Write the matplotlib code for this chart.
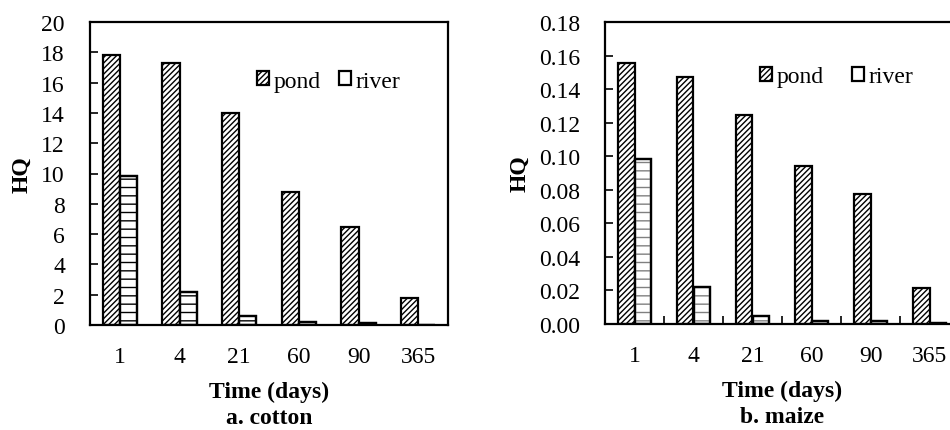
import matplotlib.pyplot as plt
import numpy as np

plt.rcParams['font.family'] = ['Liberation Serif', 'DejaVu Serif']
plt.rcParams['hatch.linewidth'] = 1.0

days = ['1', '4', '21', '60', '90', '365']
cotton_pond = [17.8, 17.3, 14.0, 8.8, 6.5, 1.8]
cotton_river = [9.85, 2.15, 0.58, 0.2, 0.1, 0.02]
maize_pond = [0.1555, 0.147, 0.1245, 0.094, 0.0775, 0.0215]
maize_river = [0.0983, 0.022, 0.0045, 0.002, 0.0015, 0.0005]

W, H = 950, 431
fig = plt.figure(figsize=(W / 100, H / 100), dpi=100)
# axes rectangles in pixels: left, top, right, bottom
ax_a = fig.add_axes([90 / W, 1 - 326 / H, (448 - 90) / W, (326 - 23) / H])
ax_b = fig.add_axes([605 / W, 1 - 325 / H, (959 - 605) / W, (325 - 23) / H])

x = np.arange(len(days))
width = 0.285
fs = 17


def draw(ax, pond, river, ymax, ystep, fmt, river_hatch_color, caption, x_ticks, legend_at, colsp):
	ax.bar(x - width / 2, pond, width, facecolor='white', edgecolor='black', hatch='//////',
		linewidth=1.6, label='pond')
	ax.bar(x + width / 2, river, width, facecolor='white', edgecolor='black', linewidth=1.6,
		label='river')
	# dashed horizontal fill of the river bars
	ax.bar(x + width / 2, river, width, facecolor='none', edgecolor=river_hatch_color, hatch='--',
		linewidth=0)
	ax.bar(x + width / 2, river, width, facecolor='none', edgecolor='black', linewidth=1.6)
	ax.set_xlim(-0.5, len(days) - 0.5)
	ax.set_ylim(0, ymax)
	ticks = np.arange(0, ymax + ystep / 2, ystep)
	ax.set_yticks(ticks)
	ax.set_yticklabels([fmt.format(t) for t in ticks], fontsize=fs)
	ax.set_xticks(x)
	ax.set_xticklabels(days, fontsize=fs)
	ax.tick_params(axis='y', direction='in', length=6, width=1.2, pad=18)
	ax.tick_params(axis='x', length=0, pad=15)
	if x_ticks:
		ax.set_xticks(np.arange(0.5, len(days) - 0.5), minor=True)
		ax.tick_params(axis='x', which='minor', direction='in', length=6, width=1.2)
	for s in ax.spines.values():
		s.set_linewidth(1.6)
	ax.set_ylabel('HQ', fontsize=fs, fontweight='bold')
	ax.set_xlabel('Time (days)\n' + caption, fontsize=fs, fontweight='bold', linespacing=1.3,
		labelpad=10)
	handles, labels = ax.get_legend_handles_labels()
	ax.legend(handles[:2], labels[:2], loc='center left', bbox_to_anchor=legend_at,
		ncol=2, frameon=False, fontsize=fs, handlelength=0.5, handleheight=0.5,
		handletextpad=0.2, columnspacing=colsp, borderaxespad=0, borderpad=0)


draw(ax_a, cotton_pond, cotton_river, 20, 2, '{:.0f}', 'black', 'a. cotton', False, (0.466, 0.805), 0.8)
draw(ax_b, maize_pond, maize_river, 0.18, 0.02, '{:.2f}', 'gray', 'b. maize', True, (0.438, 0.818), 1.2)
ax_a.yaxis.set_label_coords(-(90 - 32) / 358, 0.5)
ax_b.yaxis.set_label_coords(-(605 - 530) / 354, 0.5)

fig.savefig('out.png', dpi=100)
